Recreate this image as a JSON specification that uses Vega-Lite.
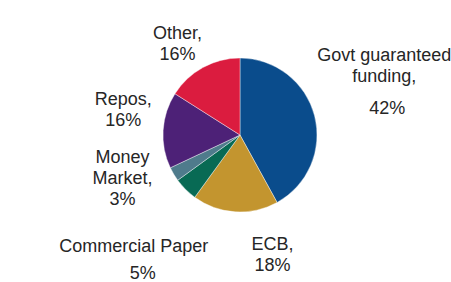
{
  "$schema": "https://vega.github.io/schema/vega-lite/v6.json",
  "autosize": "none",
  "width": 420,
  "height": 270,
  "padding": {"left": 30, "top": 0, "right": 1, "bottom": 12},
  "background": "white",
  "config": {"view": {"stroke": null}, "text": {"font": "Liberation Sans", "fontSize": 18, "fill": "#262626", "lineHeight": 21, "baseline": "middle", "align": "center"}},
  "data": {"values": [
    {"cat": "Govt guaranteed funding", "order": 1, "value": 42, "l1": ["Govt guaranteed", "funding,"], "pct": "42%"},
    {"cat": "ECB", "order": 2, "value": 18, "l1": ["ECB,", "18%"], "pct": ""},
    {"cat": "Commercial Paper", "order": 3, "value": 5, "l1": ["Commercial Paper"], "pct": "5%"},
    {"cat": "Money Market", "order": 4, "value": 3, "l1": ["Money", "Market,", "3%"], "pct": ""},
    {"cat": "Repos", "order": 5, "value": 16, "l1": ["Repos,", "16%"], "pct": ""},
    {"cat": "Other", "order": 6, "value": 16, "l1": ["Other,", "16%"], "pct": ""}
  ]},
  "encoding": {
    "theta": {"field": "value", "type": "quantitative", "stack": true},
    "order": {"field": "order", "type": "quantitative"}
  },
  "layer": [
    {
      "mark": {"type": "arc", "outerRadius": 77, "stroke": "white", "strokeWidth": 0.4},
      "encoding": {
        "color": {"field": "cat", "type": "nominal", "legend": null,
          "scale": {"domain": ["Govt guaranteed funding", "ECB", "Commercial Paper", "Money Market", "Repos", "Other"],
                    "range": ["#0A4C8C", "#C3952F", "#086A54", "#4F7B8C", "#4D2177", "#DB1C3F"]}}
      }
    },
    {
      "mark": {"type": "text", "radius": 150, "dx": -1, "dy": -42},
      "encoding": {"text": {"condition": {"test": "datum.cat === 'Govt guaranteed funding'", "field": "l1"}, "value": ""}}
    },
    {
      "mark": {"type": "text", "radius": 150, "dx": 2, "dy": 11},
      "encoding": {"text": {"condition": {"test": "datum.cat === 'Govt guaranteed funding'", "field": "pct"}, "value": ""}}
    },
    {
      "mark": {"type": "text", "radius": 120, "dx": 40, "dy": -10},
      "encoding": {"text": {"condition": {"test": "datum.cat === 'ECB'", "field": "l1"}, "value": ""}}
    },
    {
      "mark": {"type": "text", "radius": 153, "dx": 2, "dy": 4},
      "encoding": {"text": {"condition": {"test": "datum.cat === 'Commercial Paper'", "field": "l1"}, "value": ""}}
    },
    {
      "mark": {"type": "text", "radius": 153, "dx": 11, "dy": 31},
      "encoding": {"text": {"condition": {"test": "datum.cat === 'Commercial Paper'", "field": "pct"}, "value": ""}}
    },
    {
      "mark": {"type": "text", "radius": 125, "dx": -10, "dy": -41},
      "encoding": {"text": {"condition": {"test": "datum.cat === 'Money Market'", "field": "l1"}, "value": ""}}
    },
    {
      "mark": {"type": "text", "radius": 118, "dx": 1, "dy": -28},
      "encoding": {"text": {"condition": {"test": "datum.cat === 'Repos'", "field": "l1"}, "value": ""}}
    },
    {
      "mark": {"type": "text", "radius": 111, "dx": -9, "dy": -4},
      "encoding": {"text": {"condition": {"test": "datum.cat === 'Other'", "field": "l1"}, "value": ""}}
    }
  ]
}
